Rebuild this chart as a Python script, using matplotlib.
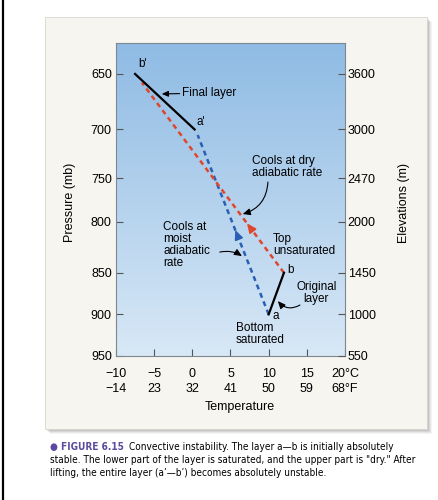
import matplotlib
matplotlib.use("Agg")
import matplotlib.pyplot as plt
import numpy as np
from matplotlib.colors import LinearSegmentedColormap
from matplotlib.patches import Rectangle
from matplotlib.lines import Line2D

plt.rcParams['font.family'] = ['Liberation Sans', 'DejaVu Sans']

# Dados do gráfico
pressao_ticks = [650, 700, 750, 800, 850, 900, 950]
elevacao_ticks = [3600, 3000, 2470, 2000, 1450, 1000, 550]
temp_c = [-10, -5, 0, 5, 10, 15, 20]
temp_f = [-14, 23, 32, 41, 50, 59, 68]

# camada original (a-b) e final (a'-b'): temperatura (°C), elevação (m)
camada_orig_t = [10, 12]
camada_orig_z = [1000, 1450]
camada_final_t = [0.3, -7.5]
camada_final_z = [3000, 3600]

# trajetórias: úmida (azul) a partir de a, seca (vermelha) a partir de b
umida_t = [10, 0.7]
umida_z = [1000, 2940]
seca_t = [12, -6.6]
seca_z = [1450, 3505]

W, H = 439, 500
def fx(px):
    return px / W
def fy(py):
    return 1 - py / H

fig = plt.figure(figsize=(4.39, 5.0), dpi=100)
fig.patch.set_facecolor("white")

# linha preta à esquerda
fig.add_artist(Line2D([fx(3), fx(3)], [0, 1], color="black", lw=1.6, zorder=-5))

# painel com sombra
for k, a in zip([5, 4, 3, 2, 1], [0.06, 0.08, 0.10, 0.13, 0.16]):
    fig.add_artist(Rectangle((fx(45 + k), fy(429 + k)), 382 / W, 412 / H,
                             facecolor="#505050", edgecolor="none", alpha=a, zorder=-4))
fig.add_artist(Rectangle((fx(45), fy(429)), 382 / W, 412 / H,
                         facecolor="#f7f5ef", edgecolor="#d8d6d0", lw=0.6, zorder=-3))

ax = fig.add_axes([fx(116), fy(356), (345 - 116) / W, (356 - 43) / H])
ax.set_xlim(-10, 20)
ax.set_ylim(550, 3935)

# fundo em degradê
cmap = LinearSegmentedColormap.from_list("ceu", ["#d8e8f6", "#8fbbe4"])
ax.imshow(np.linspace(0, 1, 256).reshape(-1, 1), extent=[-10, 20, 550, 3935],
          aspect="auto", cmap=cmap, origin="lower", zorder=0)

# trajetórias tracejadas
ax.plot(umida_t, umida_z, color="#2a5fb4", lw=1.8, dashes=(2.0, 1.6), zorder=2)
ax.plot(seca_t, seca_z, color="#e0462c", lw=1.8, dashes=(2.0, 1.6), zorder=2)

# setas nas trajetórias
def seta_linha(t, z, f, cor):
    t0 = t[0] + (f - 0.03) * (t[1] - t[0])
    z0 = z[0] + (f - 0.03) * (z[1] - z[0])
    t1 = t[0] + f * (t[1] - t[0])
    z1 = z[0] + f * (z[1] - z[0])
    ax.annotate("", xy=(t1, z1), xytext=(t0, z0),
                arrowprops=dict(arrowstyle="-|>,head_length=0.55,head_width=0.25",
                                color=cor, lw=1.2, shrinkA=0, shrinkB=0), zorder=3)

seta_linha(umida_t, umida_z, 0.47, "#2a5fb4")
seta_linha(seca_t, seca_z, 0.26, "#e0462c")

# camadas
ax.plot(camada_orig_t, camada_orig_z, color="black", lw=1.6, zorder=4)
ax.plot(camada_final_t, camada_final_z, color="black", lw=1.6, zorder=4)

fs = 8.5
ax.text(-7.1, 3645, "b'", fontsize=fs, ha="left", va="bottom")
ax.text(0.6, 3020, "a'", fontsize=fs, ha="left", va="bottom")
ax.text(12.4, 1480, "b", fontsize=fs, ha="left", va="center")
ax.text(10.5, 985, "a", fontsize=fs, ha="left", va="center")

flecha = dict(arrowstyle="-|>,head_length=0.45,head_width=0.2", color="black",
              lw=0.8, shrinkA=0, shrinkB=0)

ax.annotate("Final layer", xy=(-4.0, 3384), xytext=(-1.3, 3394), fontsize=fs,
            ha="left", va="center", arrowprops=flecha)

ax.text(7.8, 2594, "Cools at dry\nadiabatic rate", fontsize=fs, ha="left",
        va="center", linespacing=1.0)
ax.annotate("", xy=(6.6, 2085), xytext=(9.9, 2431),
            arrowprops=dict(flecha, connectionstyle="arc3,rad=-0.35"))

ax.text(10.6, 1750, "Top\nunsaturated", fontsize=fs, ha="left", va="center",
        linespacing=1.0)

ax.text(13.6, 1236, "Original\nlayer", fontsize=fs, ha="left", va="center",
        linespacing=1.0, multialignment="center")
ax.annotate("", xy=(11.2, 1144), xytext=(14.1, 1101),
            arrowprops=dict(flecha, connectionstyle="arc3,rad=-0.4"))

ax.text(5.7, 792, "Bottom\nsaturated", fontsize=fs, ha="left", va="center",
        linespacing=1.0)

ax.text(-3.8, 1755, "Cools at\nmoist\nadiabatic\nrate", fontsize=fs, ha="left",
        va="center", linespacing=1.0)
ax.annotate("", xy=(6.5, 1631), xytext=(3.6, 1674),
            arrowprops=dict(flecha, connectionstyle="arc3,rad=-0.2"))

# eixos
for s in ax.spines.values():
    s.set_color("#7d8791")
    s.set_linewidth(0.8)

ax.set_yticks(elevacao_ticks)
ax.set_yticklabels([str(p) for p in pressao_ticks])
ax.set_xticks(temp_c)
rot_x = []
for i, (c, f) in enumerate(zip(temp_c, temp_f)):
    sc = str(c).replace("-", "\u2212")
    sf = str(f).replace("-", "\u2212")
    if i == len(temp_c) - 1:
        sc += "°C"
        sf += "°F"
    rot_x.append(sc + "\n" + sf)
ax.set_xticklabels(rot_x, linespacing=1.35)
ax.tick_params(axis="y", direction="in", length=5, color="#555555", labelsize=9, pad=3)
ax.tick_params(axis="x", direction="in", length=5, color="#555555", labelsize=9, pad=8.5)

ax2 = ax.twinx()
ax2.set_ylim(550, 3935)
ax2.set_yticks(elevacao_ticks)
ax2.set_yticklabels([str(z) for z in elevacao_ticks])
ax2.tick_params(axis="y", direction="in", length=5, color="#555555", labelsize=9, pad=2)
for s in ax2.spines.values():
    s.set_visible(False)

ax.set_ylabel("Pressure (mb)", fontsize=9)
ax.yaxis.set_label_coords(-0.175, 0.49)
ax2.set_ylabel("Elevations (m)", fontsize=9)
ax2.yaxis.set_label_coords(1.232, 0.49)
ax.set_xlabel("Temperature", fontsize=9)
ax.xaxis.set_label_coords(0.541, -0.143)

# legenda da figura (ajusta o tamanho à largura)
linhas = [
    "Convective instability. The layer a\u2014b is initially absolutely",
    "stable. The lower part of the layer is saturated, and the upper part is \"dry.\" After",
    "lifting, the entire layer (a\u2019\u2014b\u2019) becomes absolutely unstable.",
]
estilo = dict(family="DejaVu Sans", fontstretch="condensed", va="center")
t_fig = fig.text(fx(50), fy(447), "\u25cf FIGURE 6.15", color="#5b4a9e", fontsize=8,
                 fontweight="bold", **estilo)
t1 = fig.text(fx(139), fy(447), linhas[0], fontsize=8, **estilo)
t2 = fig.text(fx(50), fy(460), linhas[1], fontsize=8, **estilo)
t3 = fig.text(fx(50), fy(473), linhas[2], fontsize=8, **estilo)

fig.canvas.draw()
r = fig.canvas.get_renderer()
escala = 363 / t2.get_window_extent(r).width
for t in (t_fig, t1, t2, t3):
    t.set_fontsize(8 * escala)
fig.canvas.draw()
fim = t_fig.get_window_extent(r).x1
t1.set_x((fim + 5) / W)

fig.savefig("out.png", dpi=100)
